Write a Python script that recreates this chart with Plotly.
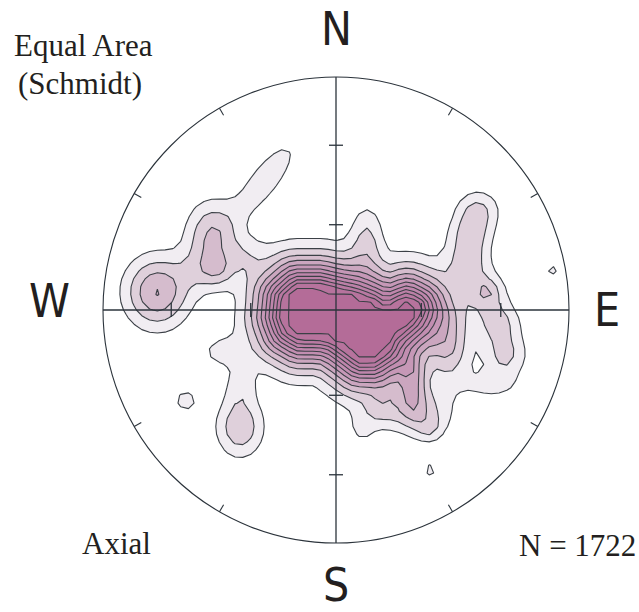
import numpy as np
import plotly.graph_objects as go

# Outline of the densest cluster (unit-circle coordinates, x east, y north)
core_x = [-0.167, -0.069, 0.073, 0.167, 0.219, 0.253, 0.305, 0.348, 0.352, 0.330,
          0.245, 0.219, 0.159, 0.103, 0.047, -0.013, -0.069, -0.155, -0.206, -0.227,
          -0.219]
core_y = [0.099, 0.099, 0.064, 0.030, -0.017, 0.021, 0.043, 0.021, 0.000, -0.043,
          -0.116, -0.172, -0.215, -0.215, -0.172, -0.129, -0.116, -0.116, -0.086, -0.030,
          0.052]
core_peak = 11.05
core_decay = 0.17     # exponential fall-off length away from the outline
core_cutoff = 0.19    # gaussian cut-off length

# Secondary concentrations: centre x, centre y, height, spread x, spread y, rotation (deg)
peak_x = [-0.506, -0.535, -0.305, -0.390, -0.768, -0.584,            # NW group
          -0.489, -0.412, -0.412, -0.644,                            # SW group
          0.133, 0.489, 0.330, 0.352, 0.189, 0.112, 0.403, 0.408,    # S / SE of core
          0.609, 0.575, 0.567, 0.639, 0.650, 0.695, 0.725, 0.661,    # E arm
          0.927]
peak_y = [0.170, 0.325, 0.558, 0.236, 0.077, 0.172,
          -0.180, -0.322, -0.502, -0.390,
          0.310, -0.172, -0.322, -0.438, -0.429, -0.506, -0.515, -0.687,
          0.429, 0.322, 0.206, 0.077, 0.082, -0.052, -0.193, -0.322,
          0.172]
peak_h = [1.7, 2.9, 1.6, 1.3, 4.05, 1.2,
          1.3, 1.3, 2.9, 1.45,
          2.0, 2.3, 2.8, 2.4, 1.2, 1.2, 1.3, 1.35,
          2.2, 2.2, 2.2, 2.2, 0.8, 2.2, 2.3, 1.4,
          1.3]
peak_sx = [0.050, 0.075, 0.170, 0.060, 0.095, 0.070,
           0.070, 0.045, 0.070, 0.042,
           0.050, 0.060, 0.040, 0.100, 0.050, 0.040, 0.040, 0.030,
           0.065, 0.065, 0.065, 0.065, 0.030, 0.065, 0.065, 0.080,
           0.030]
peak_sy = [0.050, 0.100, 0.055, 0.060, 0.105, 0.070,
           0.050, 0.060, 0.090, 0.042,
           0.100, 0.110, 0.090, 0.070, 0.050, 0.050, 0.040, 0.030,
           0.060, 0.060, 0.060, 0.060, 0.030, 0.060, 0.070, 0.040,
           0.030]
peak_rot = [0, 0, 52, 0, 0, 0,
            0, 0, 0, 0,
            0, 0, 0, 0, 0, 0, 0, 0,
            0, 0, 0, 0, 0, 0, 0, 0,
            0]

# Contour levels (multiples of uniform density) and their fills
levels = [1, 2, 3, 4, 5, 6, 7, 8, 9, 10, 11]
level_colors = ["#f1edf2", "#dfd0db", "#d5bccd", "#cba6bf", "#c698b7", "#c28eb1",
                "#bf86ac", "#bc80a7", "#b979a2", "#b7739d", "#b46c98"]

net_labels = ["N", "E", "S", "W"]
net_label_pos = [(0.0, 1.205), (1.165, 0.0), (0.0, -1.18), (-1.23, 0.04)]

# ---- density grid ----
g = np.linspace(-1.0, 1.0, 61)
gx, gy = np.meshgrid(g, g)

# distance from each node to the core outline, zero inside it
vx, vy = np.array(core_x), np.array(core_y)
wx, wy = np.roll(vx, -1), np.roll(vy, -1)
dist = np.full(gx.shape, np.inf)
inside = np.zeros(gx.shape, dtype=bool)
for ax_, ay_, bx_, by_ in zip(vx, vy, wx, wy):
    ex, ey = bx_ - ax_, by_ - ay_
    t = np.clip(((gx - ax_) * ex + (gy - ay_) * ey) / (ex * ex + ey * ey), 0, 1)
    dist = np.minimum(dist, np.hypot(gx - ax_ - t * ex, gy - ay_ - t * ey))
    crosses = ((ay_ > gy) != (by_ > gy)) & (gx < ax_ + (gy - ay_) * ex / (ey + 1e-12))
    inside ^= crosses
dist[inside] = 0.0
z = core_peak * np.exp(-dist / core_decay - (dist / core_cutoff) ** 2)

for x0, y0, h, sx, sy, rot in zip(peak_x, peak_y, peak_h, peak_sx, peak_sy, peak_rot):
    t = np.radians(rot)
    dx, dy = gx - x0, gy - y0
    u = dx * np.cos(t) + dy * np.sin(t)
    v = -dx * np.sin(t) + dy * np.cos(t)
    z += h * np.exp(-0.5 * ((u / sx) ** 2 + (v / sy) ** 2))

fig = go.Figure()
for lev, col in zip(levels, level_colors):
    # plotly shades the side of a constraint that fails the test,
    # so "<" paints the area where the density reaches the level
    fig.add_trace(go.Contour(
        x=g, y=g, z=z,
        contours=dict(type="constraint", operation="<", value=lev),
        fillcolor=col,
        line=dict(color="#3b4046", width=1.1, smoothing=0),
        showscale=False, hoverinfo="skip",
    ))

AX = "#2b333b"
shapes = [
    dict(type="circle", x0=-1, y0=-1, x1=1, y1=1, line=dict(color=AX, width=1.1)),
    dict(type="line", x0=-1, y0=0, x1=1, y1=0, line=dict(color=AX, width=1.3)),
    dict(type="line", x0=0, y0=-1, x1=0, y1=1, line=dict(color=AX, width=1.3)),
]
# azimuth ticks on the primitive every 30 degrees
for az in range(30, 360, 30):
    if az % 90 == 0:
        continue
    a = np.radians(az)
    sx_, sy_ = np.sin(a), np.cos(a)
    shapes.append(dict(type="line", x0=sx_, y0=sy_, x1=0.965 * sx_, y1=0.965 * sy_,
                       line=dict(color=AX, width=1.1)))
# plunge ticks on the axes at 30 and 60 degrees (equal-area radius)
for ang in (30, 60):
    r = np.sqrt(2) * np.sin(np.radians(ang) / 2)
    for s in (-1, 1):
        shapes.append(dict(type="line", x0=-0.03, x1=0.03, y0=s * r, y1=s * r,
                           line=dict(color=AX, width=1.3)))
        shapes.append(dict(type="line", y0=-0.03, y1=0.03, x0=s * r, x1=s * r,
                           line=dict(color=AX, width=1.3)))

annotations = []
for lab, (lx, ly) in zip(net_labels, net_label_pos):
    annotations.append(dict(x=lx, y=ly, xref="x", yref="y", text=lab, showarrow=False,
                            font=dict(family="Liberation Sans Narrow, DejaVu Sans Condensed, sans-serif",
                                      size=46, color="#231f20"),
                            xanchor="center", yanchor="middle", borderpad=0))
serif = dict(family="Liberation Serif, Times New Roman, serif", size=31, color="#231f20")
for txt, px, py, anc in [("Equal Area", 12, 46, "left"), ("(Schmidt)", 16, 84, "left"),
                         ("Axial", 80, 543, "left"), ("N = 1722", 638, 545, "right")]:
    annotations.append(dict(x=px / 639, y=1 - py / 612, xref="paper", yref="paper",
                            text=txt, showarrow=False, font=serif,
                            xanchor=anc, yanchor="middle"))

R = 233.0
fig.update_layout(
    width=639, height=612,
    margin=dict(l=0, r=0, t=0, b=0),
    paper_bgcolor="white", plot_bgcolor="white",
    showlegend=False,
    xaxis=dict(range=[-336 / R, (639 - 336) / R], visible=False, fixedrange=True),
    yaxis=dict(range=[-(612 - 310) / R, 310 / R], visible=False, fixedrange=True),
    shapes=shapes,
    annotations=annotations,
)
fig.write_html("out.html")
